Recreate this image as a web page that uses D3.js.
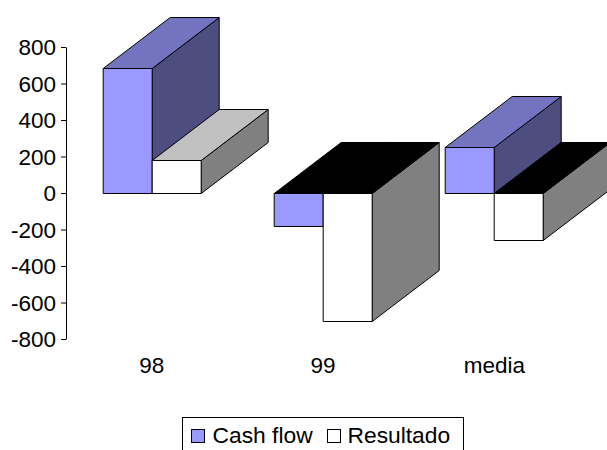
<!DOCTYPE html>
<html><head><meta charset="utf-8">
<script src="https://cdnjs.cloudflare.com/ajax/libs/d3/7.8.5/d3.min.js"></script>
<style>html,body{margin:0;padding:0;background:#fff;overflow:hidden}svg{display:block}
text{font-family:"Liberation Sans",Arial,sans-serif;fill:#000}</style></head><body>
<script>
const categories = ["98","99","media"];
const seriesNames = ["Cash flow","Resultado"];
const cashFlow = [685,-180,250];
const resultado = [180,-700,-260];
const yTicks = [800,600,400,200,0,-200,-400,-600,-800];
const frontColors = ["#9999FF","#FFFFFF"];
const topColors = ["#7373BF","#C0C0C0"];
const sideColors = ["#4D4D80","#808080"];

const W=607,H=450,dx=67,dy=-51,fs=22.5;
const svg=d3.select("body").append("svg").attr("width",W).attr("height",H);
const y=d3.scaleLinear().domain([-800,800]).range([339,47]);
const x=d3.scaleBand().domain(categories).range([66,580]);
const xs=d3.scaleBand().domain(seriesNames).range([0,98]);

const ax=svg.append("g").attr("transform","translate(66,0)")
  .call(d3.axisLeft(y).tickValues(yTicks).tickSize(5).tickPadding(5).tickSizeOuter(0).tickFormat(d=>String(d)));
ax.select(".domain").attr("stroke","#000");
ax.selectAll("line").attr("stroke","#000");
ax.selectAll("text").style("font-size",fs+"px").attr("dy","0.35em").style("font-family",'"Liberation Sans"');

const gx=svg.append("g").attr("transform","translate(0,365)");
gx.selectAll("text").data(categories).join("text")
  .attr("x",d=>x(d)+x.bandwidth()/2).attr("text-anchor","middle").attr("dy","0.35em")
  .style("font-size",fs+"px").text(d=>d);

const marks=svg.append("g");
const poly=(pts,fill)=>marks.append("polygon").attr("points",pts.map(p=>p.join(",")).join(" "))
  .attr("fill",fill).attr("stroke","#000").attr("stroke-width",1).attr("stroke-linejoin","round");
const series=[cashFlow,resultado];
categories.forEach((c,i)=>{
  series.forEach((vals,s)=>{
    const v=vals[i], name=seriesNames[s];
    const x0=Math.round(x(c)+x.bandwidth()/2-49)+xs(name)+.2, x1=x0+xs.bandwidth();
    const yt=Math.round(y(Math.max(v,0)))+.5, yb=Math.round(y(Math.min(v,0)))+.5;
    poly([[x1,yt],[x1+dx,yt+dy],[x1+dx,yb+dy],[x1,yb]],sideColors[s]);
    poly([[x0,yt],[x0+dx,yt+dy],[x1+dx,yt+dy],[x1,yt]],v<0?"#000":topColors[s]);
    poly([[x0,yt],[x1,yt],[x1,yb],[x0,yb]],frontColors[s]);
  });
});

const lg=svg.append("g");
lg.append("rect").attr("x",182.5).attr("y",417.5).attr("width",281).attr("height",40).attr("fill","#fff").attr("stroke","#000");
const lx=[191,327], tx=[212.5,347.5];
seriesNames.forEach((n,i)=>{
  lg.append("rect").attr("x",lx[i]+.5).attr("y",429.5).attr("width",13).attr("height",13)
    .attr("fill",frontColors[i]).attr("stroke","#000");
  lg.append("text").attr("x",tx[i]).attr("y",443).style("font-size","22.8px").text(n);
});
</script></body></html>
